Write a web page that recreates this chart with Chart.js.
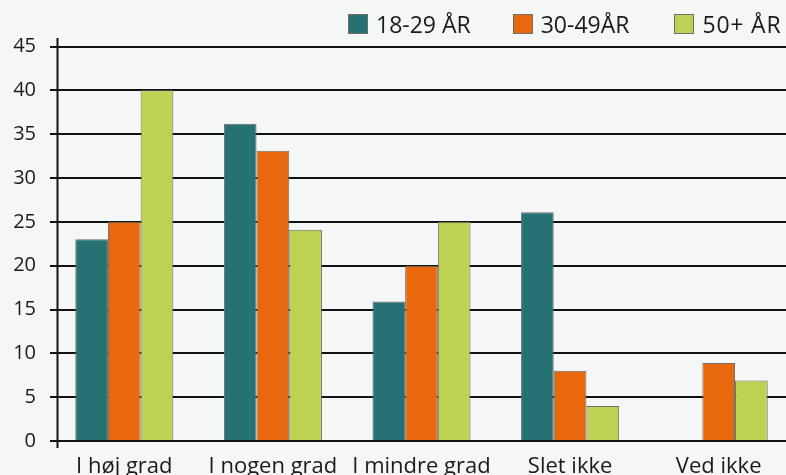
<!DOCTYPE html>
<html>
<head>
<meta charset="utf-8">
<script src="https://cdn.jsdelivr.net/npm/chart.js@4.4.1/dist/chart.umd.min.js"></script>
<style>
  html, body { margin: 0; padding: 0; background: #f5f6f6; overflow: hidden; width: 786px; height: 475px; }
  #wrap { position: relative; width: 786px; height: 475px; overflow: hidden; }
  canvas { position: absolute; left: 0; top: 0; }
  .legend { position: absolute; left: 348px; top: 12.5px; display: flex;
            font: 23px 'Open Sans', sans-serif; line-height: 23px; color: #1a1a1a; white-space: nowrap; }
  .legend .item { display: flex; align-items: center; margin-right: 42px; }
  .legend .item:nth-child(2) { margin-right: 45px; }
  .legend .box { width: 18px; height: 18px; border: 1px solid #6d6d6d; margin-right: 8px; }
  .legend .item:last-child span:last-child { letter-spacing: 0.8px; }
</style>
</head>
<body>
<div id="wrap">
  <canvas id="chart" width="793" height="490"></canvas>
  <div class="legend" id="legend"></div>
</div>
<script>
// categories and series
const categories = ['I høj grad', 'I nogen grad', 'I mindre grad', 'Slet ikke', 'Ved ikke'];
const seriesNames = ['18-29 ÅR', '30-49ÅR', '50+ ÅR'];
const age18to29 = [23, 36.2, 15.9, 26.1, null];
const age30to49 = [25, 33.1, 20, 8, 8.9];
const age50plus = [40, 24.1, 25, 4, 6.9];
const yMax = 45;
const yStep = 5;

const seriesColors = ['#267171', '#e9680e', '#bed152'];
const seriesValues = [age18to29, age30to49, age50plus];

// Legend as plain html, right side at the top
const legendEl = document.getElementById('legend');
seriesNames.forEach((name, i) => {
  const item = document.createElement('div');
  item.className = 'item';
  const box = document.createElement('span');
  box.className = 'box';
  box.style.background = seriesColors[i];
  const txt = document.createElement('span');
  txt.textContent = name;
  item.appendChild(box);
  item.appendChild(txt);
  legendEl.appendChild(item);
});

// y axis line sits a bit right of where the grid starts, and runs past both ends
const axisLinePlugin = {
  id: 'axisLine',
  afterDatasetsDraw(chart) {
    const { ctx, chartArea } = chart;
    ctx.save();
    ctx.strokeStyle = '#111';
    ctx.lineWidth = 2;
    ctx.beginPath();
    ctx.moveTo(chartArea.left + 7.5, chartArea.top - 8.5);
    ctx.lineTo(chartArea.left + 7.5, chartArea.bottom + 7);
    ctx.stroke();
    ctx.restore();
  }
};

const ctx = document.getElementById('chart').getContext('2d');
new Chart(ctx, {
  type: 'bar',
  data: {
    labels: categories,
    datasets: seriesNames.map((name, i) => ({
      label: name,
      data: seriesValues[i],
      backgroundColor: seriesColors[i],
      borderColor: '#6d6d6d',
      borderWidth: 1,
      categoryPercentage: 0.66,
      barPercentage: 1.0
    }))
  },
  options: {
    responsive: false,
    animation: false,
    devicePixelRatio: 1,
    layout: { padding: { top: 46.5, left: 0, right: 0, bottom: 0 } },
    plugins: {
      legend: { display: false },
      tooltip: { enabled: false }
    },
    scales: {
      x: {
        grid: { display: false },
        border: { display: false },
        ticks: {
          color: '#1a1a1a',
          font: { family: "'Open Sans', sans-serif", size: 22 },
          padding: 5,
          maxRotation: 0,
          autoSkip: false
        },
        afterFit: (scale) => { scale.height = 49; }
      },
      y: {
        min: 0,
        max: yMax,
        grid: { color: '#111', lineWidth: 2, drawTicks: false },
        border: { display: false },
        ticks: {
          stepSize: yStep,
          color: '#1a1a1a',
          font: { family: "'Open Sans', sans-serif", size: 20 },
          padding: 14
        },
        afterFit: (scale) => { scale.width = 50; }
      }
    }
  },
  plugins: [axisLinePlugin]
});
</script>
</body>
</html>
